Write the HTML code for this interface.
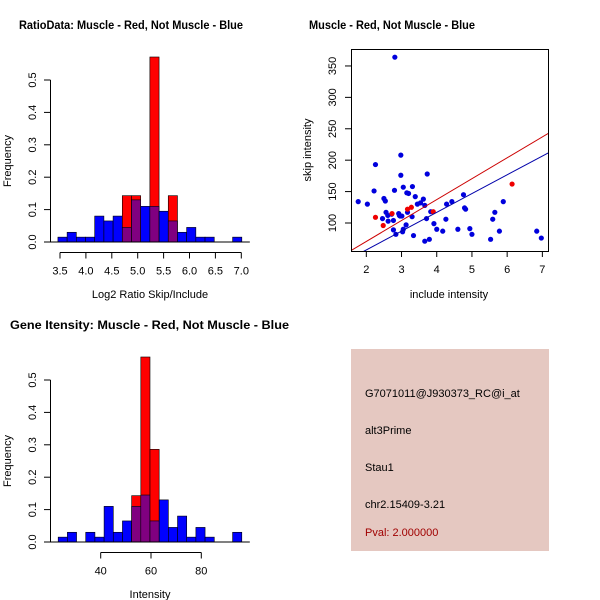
<!DOCTYPE html>
<html><head><meta charset="utf-8"><style>
body{margin:0;background:#fff}
svg{display:block;font-family:"Liberation Sans",sans-serif}
</style></head><body>
<svg id="c" width="600" height="600" xmlns="http://www.w3.org/2000/svg">
<g><text x="19" y="29" font-size="12" font-weight="bold" textLength="224" lengthAdjust="spacingAndGlyphs">RatioData: Muscle - Red, Not Muscle - Blue</text></g>
<g><text x="309" y="29" font-size="12" font-weight="bold" textLength="166" lengthAdjust="spacingAndGlyphs">Muscle - Red, Not Muscle - Blue</text></g>
<g><text x="10" y="329" font-size="12" font-weight="bold" textLength="279" lengthAdjust="spacingAndGlyphs">Gene Itensity: Muscle - Red, Not Muscle - Blue</text></g>
<g id="h1"></g>
<g id="h2"></g>
<g id="sc"></g>
<g>
<rect x="351" y="349" width="198" height="202" fill="#e5c8c1"/>
<text x="365" y="397" font-size="11">G7071011@J930373_RC@i_at</text>
<text x="365" y="434" font-size="11">alt3Prime</text>
<text x="365" y="471" font-size="11">Stau1</text>
<text x="365" y="508" font-size="11">chr2.15409-3.21</text>
<text x="365" y="536" font-size="11" fill="#a00000">Pval: 2.000000</text>
</g>
</svg>
<script>
const ratioStart = 3.46, ratioWidth = 0.1775;
const ratioBlue = [0.015,0.03,0.015,0.015,0.08,0.065,0.08,0.045,0.13,0.11,0.11,0.095,0.065,0.03,0.045,0.015,0.015,0,0,0.015];
const ratioRed  = [0,0,0,0,0,0,0,0.143,0.143,0,0.571,0,0.143,0,0,0,0,0,0,0];
const ratioTicks = [3.5,4.0,4.5,5.0,5.5,6.0,6.5,7.0];
const intStart = 23.1, intWidth = 3.65;
const intBlue = [0.015,0.03,0,0.03,0.015,0.11,0.03,0.065,0.11,0.145,0.065,0.13,0.045,0.08,0.015,0.045,0.015,0,0,0.03];
const intRed  = [0,0,0,0,0,0,0,0,0.143,0.571,0.286,0,0,0,0,0,0,0,0,0];
const intTicks = [40,60,80];
const freqTicks = [0.0,0.1,0.2,0.3,0.4,0.5];
const blueX = [2.81,1.77,2.03,2.26,2.22,2.5,2.54,2.8,2.98,2.98,3.05,3.15,3.2,3.31,3.39,3.45,3.54,3.62,3.66,3.73,2.46,2.56,2.61,2.62,2.72,2.77,2.77,2.84,2.92,2.94,2.96,3.01,3.03,3.05,3.13,3.17,3.3,3.34,3.66,3.71,3.79,3.83,3.92,4.0,4.17,4.26,4.28,4.43,4.6,4.76,4.79,4.82,4.94,5.0,5.53,5.59,5.65,5.78,5.89,6.84,6.97];
const blueY = [364,134,130,193,151,139,135,152,208,176,157,148,147,158,142,130,132,138,128,178,107,117,112,103,114,104,89,82,115,112,111,111,86,90,97,117,110,80,71,107,74,118,99,90,87,106,130,134,90,145,124,122,91,82,74,106,117,87,134,87,76];
const redX = [2.26,2.48,2.73,3.17,3.28,3.9,6.14];
const redY = [109,96,115,122,125,118,162];
const redFit = [4, 33.3];   // intercept, slope
const blueFit = [-2.7, 29.9];
const scXTicks = [2,3,4,5,6,7];
const scYTicks = [100,150,200,250,300,350];

const NS="http://www.w3.org/2000/svg";
function mk(p,t,a){const e=document.createElementNS(NS,t);for(const k in a)e.setAttribute(k,a[k]);p.appendChild(e);return e;}

function hist(g, oy, start, w, blue, red, ticks, xmap, xlabel, axisFrom, axisTo, fmt){
  const y=v=>oy-v*324;
  const X=v=>xmap(v);
  blue.forEach((b,i)=>{
    const r=red[i], x0=X(start+i*w), x1=X(start+(i+1)*w);
    const top=Math.max(b,r), lo=Math.min(b,r);
    if(top<=0) return;
    const bar=mk(g,'rect',{x:x0,y:y(top),width:x1-x0,height:y(0)-y(top),fill:b>=r?'#0000ff':'#ff0000',stroke:'#000','stroke-width':0.6});
    
    
    if(lo>0){
      const ov=mk(g,'rect',{x:x0,y:y(lo),width:x1-x0,height:y(0)-y(lo),fill:'#800080',stroke:'#000','stroke-width':0.6});
      
      
    }
  });
  mk(g,'line',{x1:X(start)-8,x2:X(start+blue.length*w)+8,y1:y(0),y2:y(0),stroke:'#000'});
  const ya=mk(g,'g',{});
  
  
  mk(ya,'line',{x1:50.5,x2:50.5,y1:y(0),y2:y(0.5),stroke:'#000'});
  freqTicks.forEach(t=>{
    mk(ya,'line',{x1:44,x2:50.5,y1:y(t),y2:y(t),stroke:'#000'});
    const tx=mk(ya,'text',{x:36,y:y(t),'font-size':11,'text-anchor':'middle',transform:`rotate(-90 36 ${y(t)})`});
    tx.textContent=t.toFixed(1);
  });
  const yl=mk(g,'text',{x:11,y:oy-81,'font-size':11,'text-anchor':'middle',transform:`rotate(-90 11 ${oy-81})`});
  yl.textContent='Frequency';
  
  
  const xa=mk(g,'g',{});
  
  
  const ay=oy+10.5;
  mk(xa,'line',{x1:X(axisFrom),x2:X(axisTo),y1:ay,y2:ay,stroke:'#000'});
  ticks.forEach(t=>{
    mk(xa,'line',{x1:X(t),x2:X(t),y1:ay,y2:ay+6,stroke:'#000'});
    const tx=mk(xa,'text',{x:X(t),y:ay+22,'font-size':11,'text-anchor':'middle'});
    tx.textContent=fmt(t);
  });
  const xl=mk(g,'text',{x:150,y:oy+56,'font-size':11,'text-anchor':'middle'});
  xl.textContent=xlabel;
  
  
}
hist(document.getElementById('h1'),242,ratioStart,ratioWidth,ratioBlue,ratioRed,ratioTicks,v=>60+(v-3.5)*51.8,'Log2 Ratio Skip/Include',3.5,7.0,t=>t.toFixed(1));
hist(document.getElementById('h2'),542,intStart,intWidth,intBlue,intRed,intTicks,v=>100.7+(v-40)*2.515,'Intensity',40,80,t=>String(t));

(function(){
  const g=document.getElementById('sc');
  const L=351,R=548,T=49,B=251;
  const xmin=1.565,xmax=7.16,ymin=55.4,ymax=377;
  const X=v=>L+(v-xmin)/(xmax-xmin)*(R-L);
  const Y=v=>B-(v-ymin)/(ymax-ymin)*(B-T);
  const cp=mk(g,'clipPath',{id:'clipsc'});mk(cp,'rect',{x:L,y:T,width:R-L,height:B-T});
  blueX.forEach((x,i)=>{
    const c=mk(g,'circle',{cx:X(x),cy:Y(blueY[i]),r:2.6,fill:'#0000dd'});
    
    
  });
  redX.forEach((x,i)=>{
    const c=mk(g,'circle',{cx:X(x),cy:Y(redY[i]),r:2.6,fill:'#ee0000'});
    
    
  });
  [[redFit,'#cc0000','red-fit-line'],[blueFit,'#0000aa','blue-fit-line']].forEach(([f,col,nm])=>{
    const l=mk(g,'line',{x1:X(xmin-1),y1:Y(f[0]+f[1]*(xmin-1)),x2:X(xmax+1),y2:Y(f[0]+f[1]*(xmax+1)),stroke:col,'stroke-width':1,'clip-path':'url(#clipsc)'});
    
    
  });
  mk(g,'rect',{x:L+.5,y:T+.5,width:R-L,height:B-T,fill:'none',stroke:'#000'});
  scXTicks.forEach(t=>{
    mk(g,'line',{x1:X(t),x2:X(t),y1:B,y2:B+6,stroke:'#000'});
    const tx=mk(g,'text',{x:X(t),y:B+22,'font-size':11,'text-anchor':'middle'});tx.textContent=t;
  });
  scYTicks.forEach(t=>{
    mk(g,'line',{x1:L-6,x2:L,y1:Y(t),y2:Y(t),stroke:'#000'});
    const tx=mk(g,'text',{x:L-15,y:Y(t),'font-size':11,'text-anchor':'middle',transform:`rotate(-90 ${L-15} ${Y(t)})`});tx.textContent=t;
  });
  const xl=mk(g,'text',{x:449,y:298,'font-size':11,'text-anchor':'middle'});xl.textContent='include intensity';
  
  
  const yl=mk(g,'text',{x:311,y:150,'font-size':11,'text-anchor':'middle',transform:'rotate(-90 311 150)'});yl.textContent='skip intensity';
  
  
})();
</script>
</body></html>
